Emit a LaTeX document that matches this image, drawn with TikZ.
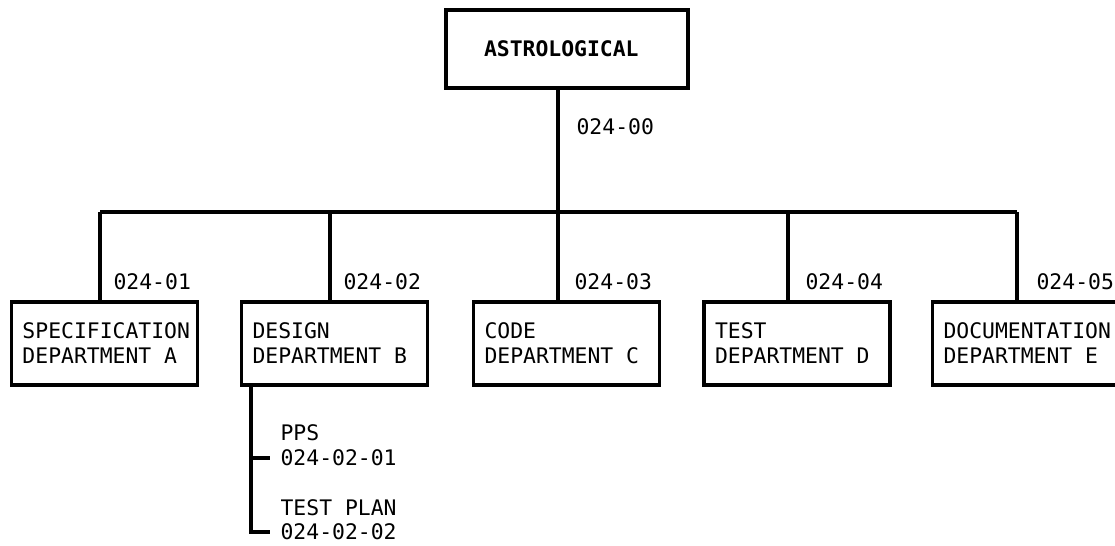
\documentclass[tikz,border=0pt]{standalone}
\usepackage{fontspec}
\setmonofont{DejaVu Sans Mono}
\usetikzlibrary{positioning}
\newcommand\chartfont{\ttfamily\fontsize{10.7}{12.5}\selectfont}
\newcommand\monospace{\spaceskip 0.602em\relax\xspaceskip 0.602em\relax}

\begin{document}
\begin{tikzpicture}[x=0.5pt, y=-0.5pt, line width=1.6pt,
    font=\chartfont,
    project/.style ={draw, align=left, text width=83pt, inner xsep=19pt, minimum height=39pt, font=\chartfont\bfseries},
    department/.style ={draw, align=flush left, text width=82pt, inner xsep=5.5pt, inner ysep=0pt, minimum height=41.5pt, execute at begin node=\monospace},
    code/.style ={anchor=west, inner sep=0pt},
    item/.style ={anchor=west, inner xsep=4.5pt, inner ysep=0pt}]
   \useasboundingbox (0,0) rectangle (1115,546);
   \node[project] (P) at (567,49) {ASTROLOGICAL};
   \node[department] (A) at (104.5,343.5) {SPECIFICATION\\DEPARTMENT A};
   \node[department] (B) at (334.5,343.5) {DESIGN\\DEPARTMENT B};
   \node[department] (C) at (566.5,343.5) {CODE\\DEPARTMENT C};
   \node[department] (D) at (797,343.5) {TEST\\DEPARTMENT D};
   \node[department] (E) at (1025.5,343.5) {DOCUMENTATION\\DEPARTMENT E};
   \coordinate (jA) at (100,212);
   \coordinate (jB) at (330,212);
   \coordinate (jC) at (558,212);
   \coordinate (jD) at (788,212);
   \coordinate (jE) at (1017,212);
   \draw (jC |- P.south) to (jC);
   \draw (jA) to (jE);
   \draw (jA) to (jA |- A.north);
   \draw (jB) to (jB |- B.north);
   \draw (jC) to (jC |- C.north);
   \draw (jD) to (jD |- D.north);
   \draw (jE) to (jE |- E.north);
   \node[code] (c0) at (575,127) {024-00};
   \node[code] (c1) at (112,282) {024-01};
   \node[code] (c2) at (342,282) {024-02};
   \node[code] (c3) at (573,282) {024-03};
   \node[code] (c4) at (804,282) {024-04};
   \node[code] (c5) at (1035,282) {024-05};
   % design work packages
   \node[item] (n1) at (270,458) {024-02-01};
   \node[item] (t1) at (270,433) {PPS};
   \node[item] (n2) at (270,532) {024-02-02};
   \node[item] (t2) at (270,508) {TEST PLAN};
   \coordinate (sB) at ([xshift=5.5pt]B.south west);
   \draw (sB) |- (n2.west);
   \draw (sB |- n1.west) to (n1.west);
 \end{tikzpicture}
\end{document}
